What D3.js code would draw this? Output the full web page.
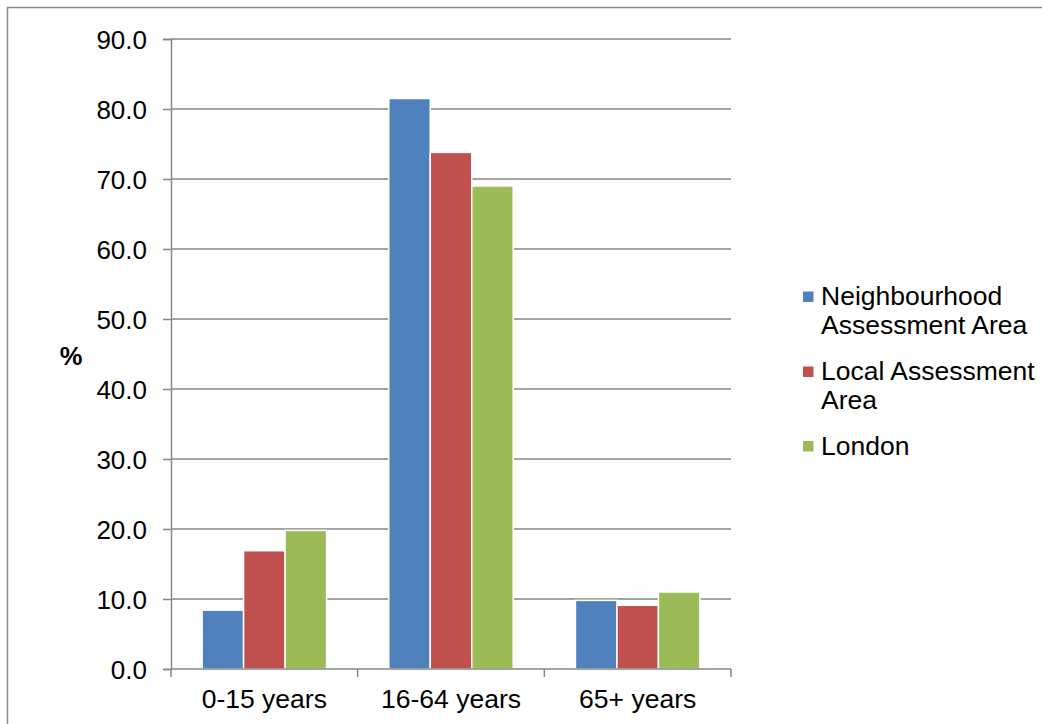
<!DOCTYPE html>
<html>
<head>
<meta charset="utf-8">
<script src="https://cdn.jsdelivr.net/npm/d3@7"></script>
<style>
  html, body { margin: 0; padding: 0; background: #fff; }
  svg { display: block; }
  text { font-family: "Liberation Sans", Arial, sans-serif; fill: #000; }
</style>
</head>
<body>
<svg id="chart" width="1042" height="724"></svg>
<script>
// Age groups and population share (%) for each area
const categories = ["0-15 years", "16-64 years", "65+ years"];
const seriesNames = ["Neighbourhood Assessment Area", "Local Assessment Area", "London"];
const neighbourhood = [8.4, 81.5, 9.8];
const localArea = [16.9, 73.8, 9.1];
const london = [19.8, 69.0, 11.0];
const yTicks = [0, 10, 20, 30, 40, 50, 60, 70, 80, 90];
const legendLines = [["Neighbourhood", "Assessment Area"], ["Local Assessment", "Area"], ["London"]];
const colors = ["#4f81bd", "#c0504d", "#9bbb59"];

const series = [neighbourhood, localArea, london];

const svg = d3.select("#chart");
const axisColor = "#868686";

// Outer frame (left and top edges)
svg.append("path")
  .attr("d", "M7.5,724 V7.5 H1042")
  .attr("fill", "none")
  .attr("stroke", "#8c8c8c")
  .attr("stroke-width", 1.5);

const plot = { left: 171, right: 731, top: 39, bottom: 669 };

const x = d3.scaleBand()
  .domain(categories)
  .range([plot.left, plot.right])
  .paddingInner(0)
  .paddingOuter(0);

const y = d3.scaleLinear()
  .domain([0, 90])
  .range([plot.bottom, plot.top]);

// Horizontal gridlines
svg.append("g")
  .selectAll("line")
  .data(yTicks.filter(d => d > 0))
  .join("line")
  .attr("x1", plot.left)
  .attr("x2", plot.right)
  .attr("y1", d => y(d))
  .attr("y2", d => y(d))
  .attr("stroke", axisColor)
  .attr("stroke-width", 1.3);

// Bars: within each category the group fills 2/3 of the band
const groupInner = d3.scaleBand()
  .domain(d3.range(series.length))
  .range([0, x.bandwidth() * (3 / 4.5)]);
const groupOffset = x.bandwidth() * (0.75 / 4.5);

const barData = [];
series.forEach((vals, si) => {
  vals.forEach((v, ci) => barData.push({ si, ci, v }));
});

svg.append("g")
  .selectAll("rect")
  .data(barData)
  .join("rect")
  .attr("x", d => x(categories[d.ci]) + groupOffset + groupInner(d.si))
  .attr("width", groupInner.bandwidth())
  .attr("y", d => y(d.v))
  .attr("height", d => y(0) - y(d.v))
  .attr("fill", d => colors[d.si])
  .attr("stroke", "#fff")
  .attr("stroke-width", 1.5);

// Y axis
const yAxis = d3.axisLeft(y)
  .tickValues(yTicks)
  .tickFormat(d3.format(".1f"))
  .tickSize(8)
  .tickPadding(16);

const gy = svg.append("g")
  .attr("transform", `translate(${plot.left},0)`)
  .call(yAxis);
gy.select(".domain").attr("stroke", axisColor).attr("stroke-width", 1.5);
gy.selectAll(".tick line").attr("stroke", axisColor).attr("stroke-width", 1.5);
gy.selectAll(".tick text")
  .style("font-family", '"Liberation Sans", Arial, sans-serif')
  .style("font-size", "26px")
  .attr("fill", "#000")
  .attr("dy", "0.36em");

// X axis: baseline and boundary ticks between categories
const gx = svg.append("g");
gx.append("line")
  .attr("x1", plot.left).attr("x2", plot.right)
  .attr("y1", y(0)).attr("y2", y(0))
  .attr("stroke", axisColor).attr("stroke-width", 1.5);
const boundaries = categories.map(c => x(c)).concat([x(categories[categories.length - 1]) + x.bandwidth()]);
gx.selectAll("line.b")
  .data(boundaries)
  .join("line")
  .attr("class", "b")
  .attr("x1", d => d).attr("x2", d => d)
  .attr("y1", y(0)).attr("y2", y(0) + 8)
  .attr("stroke", axisColor).attr("stroke-width", 1.5);
gx.selectAll("text")
  .data(categories)
  .join("text")
  .attr("x", d => x(d) + x.bandwidth() / 2)
  .attr("y", 708)
  .attr("text-anchor", "middle")
  .style("font-size", "26.5px")
  .text(d => d);

// Y axis title
svg.append("text")
  .attr("x", 71)
  .attr("y", 365)
  .attr("text-anchor", "middle")
  .style("font-size", "25.5px")
  .style("font-weight", "bold")
  .text("%");

// Legend
const legendTops = [305, 380, 454.5];
const legend = svg.append("g");
legendLines.forEach((lines, i) => {
  const g = legend.append("g");
  g.append("rect")
    .attr("x", 803)
    .attr("y", legendTops[i] - 13.5)
    .attr("width", 10.5)
    .attr("height", 10.5)
    .attr("fill", colors[i]);
  lines.forEach((t, li) => {
    g.append("text")
      .attr("x", 821)
      .attr("y", legendTops[i] + li * 28.5)
      .style("font-size", "26.5px")
      .text(t);
  });
});
</script>
</body>
</html>
